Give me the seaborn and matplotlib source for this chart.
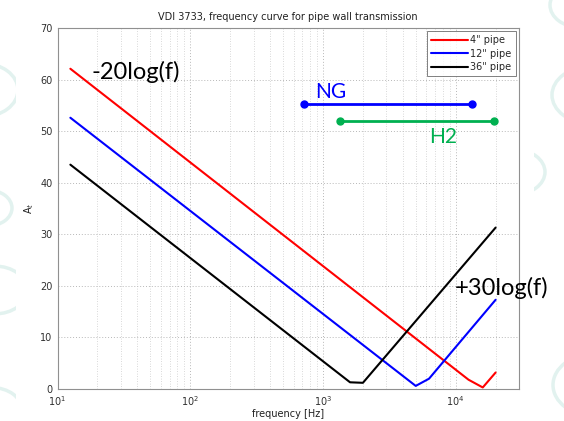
import numpy as np
import pandas as pd
import matplotlib
matplotlib.use("Agg")
import matplotlib.pyplot as plt
from matplotlib.patches import Circle, Rectangle
import seaborn as sns

# --- data (vertices, 1/3-octave band frequencies) ---
freq_4in = [12.5, 12500, 16000, 20000]
att_4in = [62.1, 1.8, 0.3, 3.2]
freq_12in = [12.5, 5000, 6300, 20000]
att_12in = [52.6, 0.6, 2.0, 17.3]
freq_36in = [12.5, 1600, 2000, 20000]
att_36in = [43.5, 1.3, 1.2, 31.3]
series_labels = ['4" pipe', '12" pipe', '36" pipe']
series_colors = ["#ff0000", "#0000ff", "#000000"]

ng_freq = [720, 13200]
ng_level = [55.3, 55.3]
h2_freq = [1350, 19400]
h2_level = [51.9, 51.9]

rows = []
for lab, fr, at in zip(series_labels, [freq_4in, freq_12in, freq_36in],
                       [att_4in, att_12in, att_36in]):
    for f, a in zip(fr, at):
        rows.append({"freq": f, "At": a, "pipe": lab})
df = pd.DataFrame(rows)

sns.set_theme(style="white")
plt.rcParams['font.family'] = ['DejaVu Sans']

W, H = 564, 421
fig = plt.figure(figsize=(W / 100, H / 100), dpi=100)
fig.patch.set_facecolor("white")

# faint background rings (slide decoration) outside the white chart area
ring_col = "#e2f2ef"
rings = [(-18, 90, 36), (-12, 208, 24), (-5, 290, 32), (-8, 410, 30),
         (580, 5, 30), (590, 95, 38), (515, 172, 30), (595, 385, 42)]
for (cx, cy, r) in rings:
    fig.patches.append(Circle((cx / W, 1 - cy / H), r / W, transform=fig.transFigure,
                              fill=False, lw=2.5, ec=ring_col, zorder=-10))
fig.patches.append(Rectangle((16 / W, 0), (534 - 16) / W, 1, transform=fig.transFigure,
                             fc="white", ec="none", zorder=-5))

ax = fig.add_axes([57.5 / W, 1 - 389 / H, (519 - 57.5) / W, (389 - 28) / H])
ax.set_facecolor("white")

sns.lineplot(data=df, x="freq", y="At", hue="pipe", palette=series_colors,
             hue_order=series_labels, ax=ax, lw=1.5, sort=False, estimator=None)

ax.plot(ng_freq, ng_level, color="#0000ff", lw=2, marker="o", ms=5)
ax.plot(h2_freq, h2_level, color="#00b050", lw=2, marker="o", ms=5)

ax.set_xscale("log")
ax.set_xlim(10, 30000)
ax.set_ylim(0, 70)
ax.set_yticks(range(0, 71, 10))

ax.grid(True, which="major", axis="both", ls=(0, (1, 2)), color="#b8b8b8", lw=0.7)
ax.grid(True, which="minor", axis="x", ls=(0, (1, 2)), color="#cccccc", lw=0.6)
ax.tick_params(axis="both", which="major", labelsize=7, colors="#303030",
               direction="in", length=3)
ax.tick_params(axis="x", which="minor", direction="in", length=1.5)
for s in ax.spines.values():
    s.set_color("#909090")
    s.set_linewidth(0.8)

ax.set_xlabel("frequency [Hz]", fontsize=7, labelpad=1, color="#202020")
ax.set_ylabel(r"A$_t$", fontsize=7, color="#202020", labelpad=3)
ax.set_title("VDI 3733, frequency curve for pipe wall transmission",
             fontsize=7, color="#202020", pad=6)

leg = ax.legend(loc="upper right", fontsize=7, frameon=True, fancybox=False,
                edgecolor="#606060", handlelength=3.8, handletextpad=0.3,
                borderpad=0.4, labelspacing=0.35, borderaxespad=0.35)
leg.get_frame().set_linewidth(0.7)
for line in leg.get_lines():
    line.set_linewidth(1.5)

ax.text(18, 61.5, "-20log(f)", fontsize=17, family="Lato", color="black",
        va="center", ha="left")
ax.text(880, 57.5, "NG", fontsize=15, family="Lato", color="#0000ff",
        va="center", ha="left")
ax.text(6300, 48.8, "H2", fontsize=15, family="Lato", color="#00b050",
        va="center", ha="left")
ax.text(9800, 19.6, "+30log(f)", fontsize=17, family="Lato", color="black",
        va="center", ha="left", clip_on=False)

fig.savefig("out.png", dpi=100)
